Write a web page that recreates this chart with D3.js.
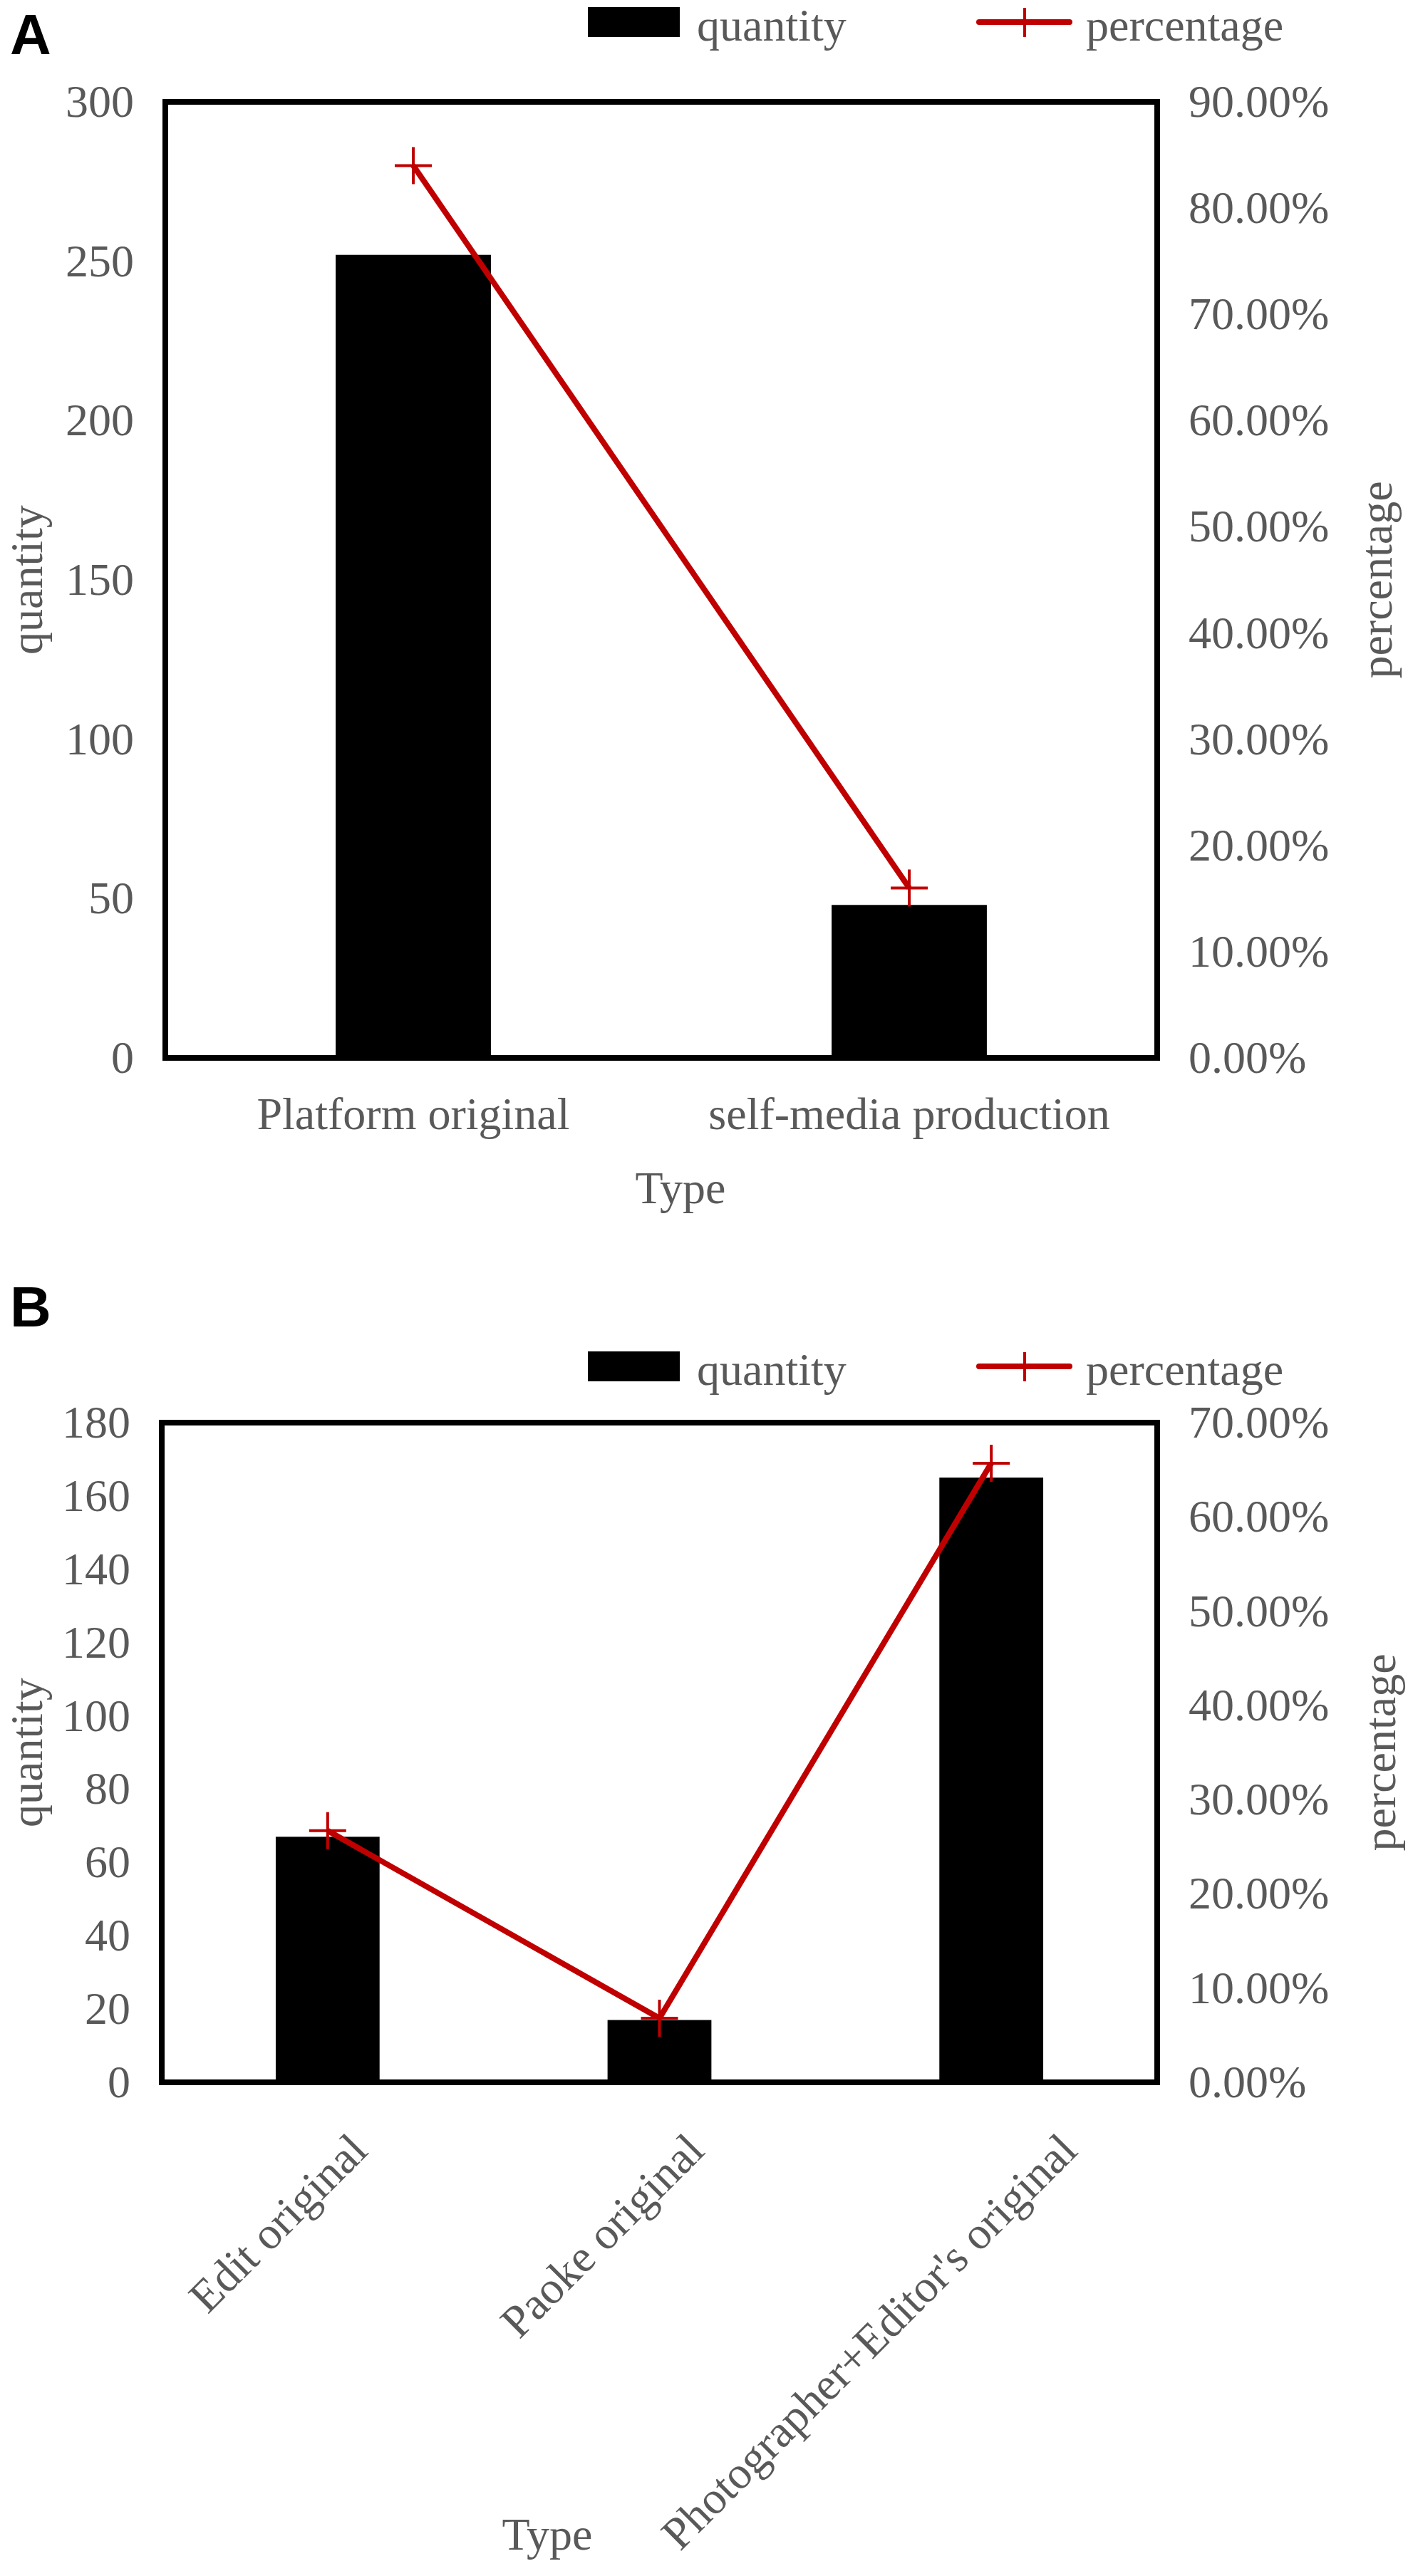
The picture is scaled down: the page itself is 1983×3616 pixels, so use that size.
<!DOCTYPE html>
<html>
<head>
<meta charset="utf-8">
<script src="https://cdn.jsdelivr.net/npm/d3@7"></script>
<style>
  html, body { margin: 0; padding: 0; background: #ffffff; }
  svg { display: block; }
</style>
</head>
<body>
<div id="chart"></div>
<script>
// ---------------- DATA ----------------
const panelACategories = ["Platform original", "self-media production"];
const panelAQuantity = [252, 48];
const panelAPercentage = [0.84, 0.16];
const panelAQuantityTicks = [0, 50, 100, 150, 200, 250, 300];
const panelAPercentTicks = [0, 0.1, 0.2, 0.3, 0.4, 0.5, 0.6, 0.7, 0.8, 0.9];

const panelBCategories = ["Edit original", "Paoke original", "Photographer+Editor's original"];
const panelBQuantity = [67, 17, 165];
const panelBPercentage = [0.267, 0.068, 0.657];
const panelBQuantityTicks = [0, 20, 40, 60, 80, 100, 120, 140, 160, 180];
const panelBPercentTicks = [0, 0.1, 0.2, 0.3, 0.4, 0.5, 0.6, 0.7];

const legendLabels = ["quantity", "percentage"];
const axisTitles = { left: "quantity", right: "percentage", bottom: "Type" };

// ---------------- STYLE ----------------
const W = 1983, H = 3616;
const SERIF = "'Liberation Serif', 'Times New Roman', serif";
const SANS = "'Liberation Sans', Arial, sans-serif";
const TEXT_GRAY = "#595959";
const RED = "#C00000";
const FS = 64;

const svg = d3.select("#chart").append("svg")
  .attr("width", W).attr("height", H)
  .attr("viewBox", `0 0 ${W} ${H}`);

svg.append("rect").attr("width", W).attr("height", H).attr("fill", "#fff");

function drawPanel(cfg) {
  const g = svg.append("g");
  const { left, right, top, bottom } = cfg.frame;

  const x = d3.scaleBand().domain(cfg.categories).range([left, right]).padding(0);
  const yQ = d3.scaleLinear().domain([0, d3.max(cfg.qTicks)]).range([bottom, top]);
  const yP = d3.scaleLinear().domain([0, d3.max(cfg.pTicks)]).range([bottom, top]);
  const barW = x.bandwidth() * 0.313;

  // panel letter
  g.append("text")
    .attr("x", 14).attr("y", cfg.letterY)
    .attr("font-family", SANS).attr("font-weight", "bold")
    .attr("font-size", 80).attr("fill", "#000")
    .text(cfg.letter);

  // bars
  g.append("g").selectAll("rect").data(cfg.quantity).join("rect")
    .attr("x", (d, i) => x(cfg.categories[i]) + x.bandwidth() / 2 - barW / 2)
    .attr("y", d => yQ(d))
    .attr("width", barW)
    .attr("height", d => yQ(0) - yQ(d))
    .attr("fill", "#000");

  // frame
  g.append("rect")
    .attr("x", left).attr("y", top)
    .attr("width", right - left).attr("height", bottom - top)
    .attr("fill", "none").attr("stroke", "#000").attr("stroke-width", 8);

  // left axis
  const leftAxis = d3.axisLeft(yQ).tickValues(cfg.qTicks).tickSize(0).tickPadding(44)
    .tickFormat(d3.format("d"));
  const la = g.append("g").attr("transform", `translate(${left},0)`).call(leftAxis);
  la.select(".domain").remove();
  la.selectAll("text").attr("font-family", SERIF).attr("font-size", FS).attr("fill", TEXT_GRAY);

  // right axis
  const rightAxis = d3.axisRight(yP).tickValues(cfg.pTicks).tickSize(0).tickPadding(44)
    .tickFormat(d3.format(".2%"));
  const ra = g.append("g").attr("transform", `translate(${right},0)`).call(rightAxis);
  ra.select(".domain").remove();
  ra.selectAll("text").attr("font-family", SERIF).attr("font-size", FS).attr("fill", TEXT_GRAY);

  // line
  const line = d3.line()
    .x((d, i) => x(cfg.categories[i]) + x.bandwidth() / 2)
    .y(d => yP(d));
  g.append("path").datum(cfg.percentage)
    .attr("d", line)
    .attr("fill", "none").attr("stroke", RED).attr("stroke-width", 8)
    .attr("stroke-linejoin", "round");

  // markers
  const m = 26;
  g.append("g").selectAll("path").data(cfg.percentage).join("path")
    .attr("d", (d, i) => {
      const cx = x(cfg.categories[i]) + x.bandwidth() / 2, cy = yP(d);
      return `M${cx - m},${cy}H${cx + m}M${cx},${cy - m}V${cy + m}`;
    })
    .attr("stroke", RED).attr("stroke-width", 4).attr("fill", "none");

  // category labels
  if (!cfg.rotateLabels) {
    g.append("g").selectAll("text").data(cfg.categories).join("text")
      .attr("x", d => x(d) + x.bandwidth() / 2)
      .attr("y", bottom + 100)
      .attr("text-anchor", "middle")
      .attr("font-family", SERIF).attr("font-size", FS).attr("fill", TEXT_GRAY)
      .text(d => d);
  } else {
    const lab = g.append("g").selectAll("text").data(cfg.categories).join("text")
      .attr("text-anchor", "end")
      .attr("font-family", SERIF).attr("font-size", FS).attr("fill", TEXT_GRAY)
      .text(d => d);
    lab.attr("transform", function (d) {
      const len = this.getComputedTextLength();
      const ax = x(d) + x.bandwidth() / 2 + 15 + 0.137 * len;
      return `translate(${ax},${bottom + 99}) rotate(-45)`;
    });
  }

  // bottom title
  g.append("text")
    .attr("x", cfg.typeX).attr("y", cfg.typeY)
    .attr("text-anchor", "middle")
    .attr("font-family", SERIF).attr("font-size", FS).attr("fill", TEXT_GRAY)
    .text(axisTitles.bottom);

  // y titles
  const midY = (top + bottom) / 2;
  g.append("text")
    .attr("transform", `translate(${cfg.leftTitleX},${midY}) rotate(-90)`)
    .attr("text-anchor", "middle")
    .attr("font-family", SERIF).attr("font-size", FS).attr("fill", TEXT_GRAY)
    .text(axisTitles.left);
  g.append("text")
    .attr("transform", `translate(${cfg.rightTitleX},${midY}) rotate(-90)`)
    .attr("text-anchor", "middle")
    .attr("font-family", SERIF).attr("font-size", FS).attr("fill", TEXT_GRAY)
    .text(axisTitles.right);

  // legend
  const ly = cfg.legendY;
  g.append("rect").attr("x", 825).attr("y", ly - 21).attr("width", 129).attr("height", 42)
    .attr("fill", "#000");
  g.append("text").attr("x", 978).attr("y", ly + 26)
    .attr("font-family", SERIF).attr("font-size", FS).attr("fill", TEXT_GRAY)
    .text(legendLabels[0]);
  g.append("line").attr("x1", 1374).attr("x2", 1501).attr("y1", ly).attr("y2", ly)
    .attr("stroke", RED).attr("stroke-width", 8).attr("stroke-linecap", "round");
  g.append("line").attr("x1", 1438).attr("x2", 1438).attr("y1", ly - 20).attr("y2", ly + 21)
    .attr("stroke", RED).attr("stroke-width", 4);
  g.append("text").attr("x", 1524).attr("y", ly + 26)
    .attr("font-family", SERIF).attr("font-size", FS).attr("fill", TEXT_GRAY)
    .text(legendLabels[1]);
}

drawPanel({
  letter: "A", letterY: 76,
  categories: panelACategories, quantity: panelAQuantity, percentage: panelAPercentage,
  qTicks: panelAQuantityTicks, pTicks: panelAPercentTicks,
  frame: { left: 232, right: 1624, top: 143, bottom: 1485 },
  rotateLabels: false,
  typeX: 955, typeY: 1689,
  leftTitleX: 59, rightTitleX: 1953,
  legendY: 31
});

drawPanel({
  letter: "B", letterY: 1862,
  categories: panelBCategories, quantity: panelBQuantity, percentage: panelBPercentage,
  qTicks: panelBQuantityTicks, pTicks: panelBPercentTicks,
  frame: { left: 227, right: 1624, top: 1997, bottom: 2923 },
  rotateLabels: true,
  typeX: 768, typeY: 3579,
  leftTitleX: 59, rightTitleX: 1958,
  legendY: 1918
});
</script>
</body>
</html>
